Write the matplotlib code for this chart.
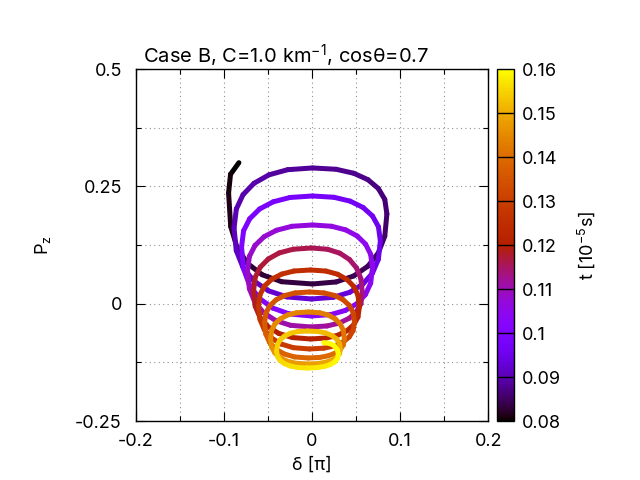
import numpy as np
import matplotlib
matplotlib.use("Agg")
import matplotlib.pyplot as plt
from matplotlib.collections import LineCollection
from matplotlib.colors import Normalize

plt.rcParams['font.family'] = ['Inter', 'Liberation Sans', 'DejaVu Sans']

# trajectory: time [1e-5 s], delta [pi], P_z
t_vals = [0.0800, 0.0805, 0.0812,
          0.0816, 0.0820, 0.0824, 0.0827, 0.0831, 0.0835,
          0.0839, 0.0843, 0.0847, 0.0850, 0.0854, 0.0858,
          0.0862, 0.0866, 0.0870, 0.0874, 0.0878, 0.0882,
          0.0886, 0.0889, 0.0893, 0.0897, 0.0901, 0.0905,
          0.0909, 0.0912, 0.0916, 0.0920, 0.0924, 0.0928,
          0.0932, 0.0935, 0.0939, 0.0943, 0.0947, 0.0951,
          0.0955, 0.0958, 0.0962, 0.0966, 0.0970, 0.0974,
          0.0978, 0.0981, 0.0985, 0.0989, 0.0993, 0.0997,
          0.1001, 0.1004, 0.1008, 0.1012, 0.1016, 0.1020,
          0.1024, 0.1027, 0.1031, 0.1035, 0.1039, 0.1043,
          0.1047, 0.1050, 0.1054, 0.1058, 0.1062, 0.1066,
          0.1070, 0.1073, 0.1077, 0.1081, 0.1085, 0.1089,
          0.1093, 0.1096, 0.1100, 0.1104, 0.1108, 0.1112,
          0.1116, 0.1119, 0.1123, 0.1127, 0.1131, 0.1135,
          0.1139, 0.1142, 0.1146, 0.1150, 0.1154, 0.1158,
          0.1162, 0.1165, 0.1169, 0.1173, 0.1177, 0.1181,
          0.1185, 0.1188, 0.1192, 0.1196, 0.1200, 0.1204,
          0.1208, 0.1211, 0.1215, 0.1219, 0.1223, 0.1227,
          0.1231, 0.1234, 0.1238, 0.1242, 0.1246, 0.1250,
          0.1254, 0.1257, 0.1261, 0.1265, 0.1269, 0.1273,
          0.1277, 0.1280, 0.1284, 0.1288, 0.1292, 0.1296,
          0.1300, 0.1303, 0.1307, 0.1311, 0.1315, 0.1319,
          0.1323, 0.1326, 0.1330, 0.1334, 0.1338, 0.1342,
          0.1346, 0.1349, 0.1353, 0.1357, 0.1361, 0.1365,
          0.1369, 0.1372, 0.1376, 0.1380, 0.1384, 0.1388,
          0.1392, 0.1395, 0.1399, 0.1403, 0.1407, 0.1411,
          0.1415, 0.1418, 0.1422, 0.1426, 0.1430, 0.1434,
          0.1438, 0.1441, 0.1445, 0.1449, 0.1453, 0.1457,
          0.1461, 0.1464, 0.1468, 0.1472, 0.1476, 0.1480,
          0.1484, 0.1487, 0.1491, 0.1495, 0.1499, 0.1503,
          0.1507, 0.1510, 0.1514, 0.1518, 0.1522, 0.1526,
          0.1530, 0.1533, 0.1537, 0.1541, 0.1545, 0.1549,
          0.1553, 0.1556, 0.1560, 0.1564, 0.1568, 0.1572,
          0.1576, 0.1579, 0.1583, 0.1587, 0.1591, 0.1595,
          0.1598, 0.1601, 0.1603, 0.1605]

delta_vals = [-0.0829, -0.0924, -0.0946,
              -0.0922, -0.0850, -0.0731, -0.0564, -0.0344, 0.0006,
              0.0274, 0.0474, 0.0635, 0.0753, 0.0826, 0.0850,
              0.0826, 0.0753, 0.0635, 0.0474, 0.0274, 0.0006,
              -0.0276, -0.0488, -0.0657, -0.0782, -0.0858, -0.0884,
              -0.0859, -0.0783, -0.0660, -0.0493, -0.0284, -0.0006,
              0.0242, 0.0428, 0.0577, 0.0686, 0.0753, 0.0776,
              0.0754, 0.0687, 0.0580, 0.0433, 0.0250, 0.0006,
              -0.0249, -0.0441, -0.0594, -0.0706, -0.0776, -0.0799,
              -0.0776, -0.0708, -0.0597, -0.0446, -0.0257, -0.0006,
              0.0213, 0.0378, 0.0510, 0.0606, 0.0666, 0.0686,
              0.0666, 0.0608, 0.0513, 0.0383, 0.0222, 0.0006,
              -0.0228, -0.0403, -0.0543, -0.0646, -0.0710, -0.0731,
              -0.0710, -0.0649, -0.0549, -0.0413, -0.0243, -0.0017,
              0.0170, 0.0310, 0.0422, 0.0504, 0.0555, 0.0572,
              0.0555, 0.0506, 0.0425, 0.0315, 0.0177, -0.0006,
              -0.0214, -0.0371, -0.0495, -0.0587, -0.0644, -0.0663,
              -0.0644, -0.0589, -0.0498, -0.0376, -0.0222, -0.0017,
              0.0159, 0.0291, 0.0396, 0.0474, 0.0522, 0.0538,
              0.0522, 0.0474, 0.0396, 0.0291, 0.0159, -0.0017,
              -0.0204, -0.0344, -0.0456, -0.0538, -0.0589, -0.0606,
              -0.0589, -0.0540, -0.0459, -0.0349, -0.0211, -0.0028,
              0.0134, 0.0255, 0.0352, 0.0423, 0.0467, 0.0482,
              0.0467, 0.0423, 0.0352, 0.0255, 0.0134, -0.0028,
              -0.0190, -0.0311, -0.0408, -0.0479, -0.0523, -0.0538,
              -0.0524, -0.0481, -0.0411, -0.0316, -0.0198, -0.0040,
              0.0089, 0.0186, 0.0264, 0.0321, 0.0356, 0.0368,
              0.0356, 0.0321, 0.0264, 0.0186, 0.0089, -0.0040,
              -0.0176, -0.0279, -0.0360, -0.0421, -0.0458, -0.0470,
              -0.0458, -0.0422, -0.0363, -0.0284, -0.0184, -0.0051,
              0.0068, 0.0157, 0.0228, 0.0280, 0.0312, 0.0323,
              0.0312, 0.0280, 0.0228, 0.0157, 0.0068, -0.0051,
              -0.0162, -0.0246, -0.0312, -0.0362, -0.0392, -0.0402,
              -0.0392, -0.0362, -0.0312, -0.0246, -0.0162, -0.0051,
              0.0060, 0.0144, 0.0210, 0.0260, 0.0290, 0.0300,
              0.0288, 0.0250, 0.0195, 0.0134]

pz_vals = [0.3004, 0.2757, 0.2359,
           0.1645, 0.1198, 0.0858, 0.0616, 0.0468, 0.0420,
           0.0463, 0.0591, 0.0800, 0.1083, 0.1438, 0.1911,
           0.2222, 0.2455, 0.2642, 0.2779, 0.2864, 0.2892,
           0.2855, 0.2745, 0.2566, 0.2323, 0.2018, 0.1613,
           0.1133, 0.0773, 0.0486, 0.0274, 0.0144, 0.0100,
           0.0136, 0.0242, 0.0415, 0.0650, 0.0944, 0.1336,
           0.1640, 0.1868, 0.2050, 0.2185, 0.2267, 0.2295,
           0.2263, 0.2170, 0.2018, 0.1811, 0.1553, 0.1208,
           0.0742, 0.0392, 0.0113, -0.0093, -0.0219, -0.0262,
           -0.0232, -0.0144, -0.0001, 0.0193, 0.0437, 0.0761,
           0.1051, 0.1269, 0.1443, 0.1572, 0.1650, 0.1677,
           0.1649, 0.1564, 0.1427, 0.1241, 0.1008, 0.0697,
           0.0319, 0.0035, -0.0192, -0.0359, -0.0461, -0.0496,
           -0.0475, -0.0413, -0.0311, -0.0174, -0.0002, 0.0228,
           0.0532, 0.0760, 0.0942, 0.1077, 0.1159, 0.1187,
           0.1160, 0.1082, 0.0953, 0.0779, 0.0561, 0.0271,
           -0.0053, -0.0297, -0.0491, -0.0634, -0.0722, -0.0752,
           -0.0732, -0.0674, -0.0578, -0.0449, -0.0286, -0.0070,
           0.0180, 0.0367, 0.0517, 0.0627, 0.0695, 0.0718,
           0.0696, 0.0630, 0.0522, 0.0377, 0.0194, -0.0049,
           -0.0339, -0.0557, -0.0731, -0.0860, -0.0938, -0.0965,
           -0.0948, -0.0899, -0.0818, -0.0709, -0.0572, -0.0390,
           -0.0187, -0.0035, 0.0086, 0.0176, 0.0230, 0.0249,
           0.0230, 0.0173, 0.0081, -0.0045, -0.0202, -0.0411,
           -0.0647, -0.0825, -0.0967, -0.1071, -0.1135, -0.1157,
           -0.1145, -0.1110, -0.1054, -0.0977, -0.0880, -0.0752,
           -0.0570, -0.0433, -0.0324, -0.0243, -0.0194, -0.0177,
           -0.0194, -0.0243, -0.0324, -0.0433, -0.0570, -0.0752,
           -0.0921, -0.1048, -0.1149, -0.1224, -0.1270, -0.1285,
           -0.1276, -0.1248, -0.1203, -0.1143, -0.1066, -0.0965,
           -0.0844, -0.0752, -0.0680, -0.0626, -0.0593, -0.0582,
           -0.0594, -0.0631, -0.0691, -0.0772, -0.0873, -0.1008,
           -0.1123, -0.1209, -0.1278, -0.1328, -0.1360, -0.1370,
           -0.1361, -0.1336, -0.1294, -0.1237, -0.1166, -0.1072,
           -0.0985, -0.0890, -0.0845, -0.0831]

x_ticks = [-0.2, -0.1, 0, 0.1, 0.2]
x_ticklabels = ['-0.2', '-0.1', '0', '0.1', '0.2']
y_ticks = [-0.25, 0, 0.25, 0.5]
y_ticklabels = ['-0.25', '0', '0.25', '0.5']
cb_ticks = [0.08, 0.09, 0.10, 0.11, 0.12, 0.13, 0.14, 0.15, 0.16]
cb_ticklabels = ['0.08', '0.09', '0.1', '0.11', '0.12', '0.13', '0.14', '0.15', '0.16']

fs = 13

fig = plt.figure(figsize=(6.4, 4.8), dpi=100)
ax = fig.add_axes([0.2120, 0.1229, 0.5509, 0.7333])
cax = fig.add_axes([0.7761, 0.1229, 0.0270, 0.7333])

pts = np.column_stack([delta_vals, pz_vals]).reshape(-1, 1, 2)
segs = np.concatenate([pts[:-1], pts[1:]], axis=1)
t_arr = np.array(t_vals)
norm = Normalize(0.08, 0.16)
lc = LineCollection(segs, cmap='gnuplot', norm=norm, linewidth=3.6,
                    capstyle='round', joinstyle='round')
lc.set_array(0.5 * (t_arr[:-1] + t_arr[1:]))
ax.add_collection(lc)

ax.set_xlim(-0.2, 0.2)
ax.set_ylim(-0.25, 0.5)
ax.set_xticks(x_ticks)
ax.set_xticklabels(x_ticklabels)
ax.set_xticks([-0.15, -0.05, 0.05, 0.15], minor=True)
ax.set_yticks(y_ticks)
ax.set_yticklabels(y_ticklabels)
ax.set_yticks([-0.125, 0.125, 0.375], minor=True)
ax.tick_params(which='both', direction='in', top=True, right=True,
               width=0.8, labelsize=fs)
ax.tick_params(which='major', length=6.5)
ax.tick_params(which='minor', length=3.5)
ax.tick_params(axis='x', which='major', pad=8.5)
ax.tick_params(axis='y', which='major', pad=10)
ax.grid(which='both', linestyle=(0, (1, 3)), color='#909090', linewidth=0.8)
for s in ax.spines.values():
    s.set_linewidth(1.0)

ax.set_xlabel('δ [π]', fontsize=fs, labelpad=5)
ax.set_ylabel('P$_{\\mathregular{z}}$', fontsize=fs, labelpad=16)

fig.text(0.2234, 0.869, 'Case B, C=1.0 km$^{\\mathregular{-1}}$, cosθ=0.7',
         fontsize=14.5, ha='left', va='baseline')

cb = fig.colorbar(lc, cax=cax, ticks=cb_ticks)
cb.ax.set_yticklabels(cb_ticklabels)
cb.ax.tick_params(length=0, labelsize=fs, pad=6)
cb.outline.set_linewidth(1.0)
for v in cb_ticks[1:-1]:
    cb.ax.axhline(v, color='black', linewidth=1.0)
cb.set_label('t [10$^{\\mathregular{-5}}$s]', fontsize=fs, labelpad=10)

fig.savefig('out.png', dpi=100)
